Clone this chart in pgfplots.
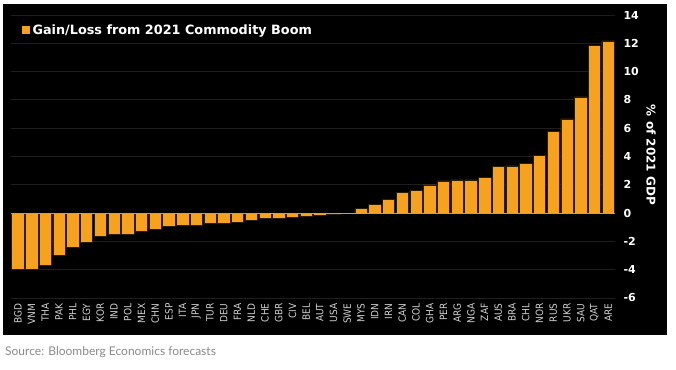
\documentclass[border=0pt]{standalone}
\usepackage{pgfplots}
\pgfplotsset{compat=1.18}
\usepackage{pgfplotstable}
\usepackage{fontspec}
\setmainfont{DejaVu Sans}
\newfontfamily\cond{DejaVu Sans Condensed}
\newfontfamily\lato{Lato}
\definecolor{barorange}{HTML}{F6A21E}
\definecolor{baredge}{HTML}{2A1D08}
\definecolor{gridc}{HTML}{1E1E1E}
\definecolor{xlab}{HTML}{D2D2D2}
\definecolor{srcgray}{HTML}{8A8A8A}

\pgfplotstableread{
x y c
0 -4.00 BGD
1 -3.97 VNM
2 -3.67 THA
3 -2.96 PAK
4 -2.42 PHL
5 -2.07 EGY
6 -1.67 KOR
7 -1.50 IND
8 -1.46 POL
9 -1.29 MEX
10 -1.15 CHN
11 -0.96 ESP
12 -0.85 ITA
13 -0.85 JPN
14 -0.70 TUR
15 -0.70 DEU
16 -0.64 FRA
17 -0.52 NLD
18 -0.38 CHE
19 -0.33 GBR
20 -0.26 CIV
21 -0.24 BEL
22 -0.16 AUT
23 -0.05 USA
24 -0.04 SWE
25 0.31 MYS
26 0.64 IDN
27 0.96 IRN
28 1.44 CAN
29 1.58 COL
30 2.00 GHA
31 2.28 PER
32 2.35 ARG
33 2.35 NGA
34 2.52 ZAF
35 3.32 AUS
36 3.34 BRA
37 3.50 CHL
38 4.07 NOR
39 5.80 RUS
40 6.66 UKR
41 8.21 SAU
42 11.84 QAT
43 12.17 ARE
}\datatable

\begin{document}
\begin{tikzpicture}
\fill[white] (0pt,0pt) rectangle (676pt,369pt);
\fill[black] (3pt,34pt) rectangle (667pt,365pt);
\begin{axis}[
  at={(11pt,71pt)}, anchor=south west,
  scale only axis, width=604pt, height=283pt,
  xmin=-0.5, xmax=43.5, ymin=-6, ymax=14,
  ytick={-6,-4,...,14},
  xtick={0,...,43},
  xticklabels from table={\datatable}{c},
  axis line style={draw=none},
  major tick length=0pt,
  ymajorgrids, grid style={color=gridc, line width=0.8pt},
  yticklabel pos=right,
  /pgf/number format/assume math mode=true,
  yticklabel style={font=\bfseries\fontsize{11}{13}\selectfont, text=white, anchor=west, xshift=5pt},
  xticklabel style={font=\cond\fontsize{10}{12}\selectfont, text=xlab, rotate=90, anchor=east, xshift=-2pt},
  ybar, bar width=12.4pt,
  legend style={at={(0.018,0.947)}, anchor=west, draw=none, fill=none, inner sep=0pt,
    column sep=2pt,
    nodes={inner sep=1pt, text=white, font=\bfseries\fontsize{12.8}{15}\selectfont},
    legend columns=1},
  legend image code/.code={\fill[barorange] (0pt,-3.5pt) rectangle (7pt,3.5pt);},
  clip=false,
]
\addplot[fill=barorange, draw=baredge, line width=0.5pt, bar shift=0pt] table[x=x, y=y] {\datatable};
\addlegendentry{Gain/Loss from 2021 Commodity Boom}
\draw[color=gray!70, line width=0.8pt] (axis cs:-0.5,0) -- (axis cs:43.5,0);
\end{axis}
\node[rotate=-90, text=white, font=\bfseries\fontsize{12}{14}\selectfont] at (651pt,214pt) {\% of 2021 GDP};
\node[anchor=west, text=srcgray, font=\lato\fontsize{12}{14}\selectfont, inner sep=0pt] at (5pt,17pt) {Source: Bloomberg Economics forecasts};
\end{tikzpicture}
\end{document}
